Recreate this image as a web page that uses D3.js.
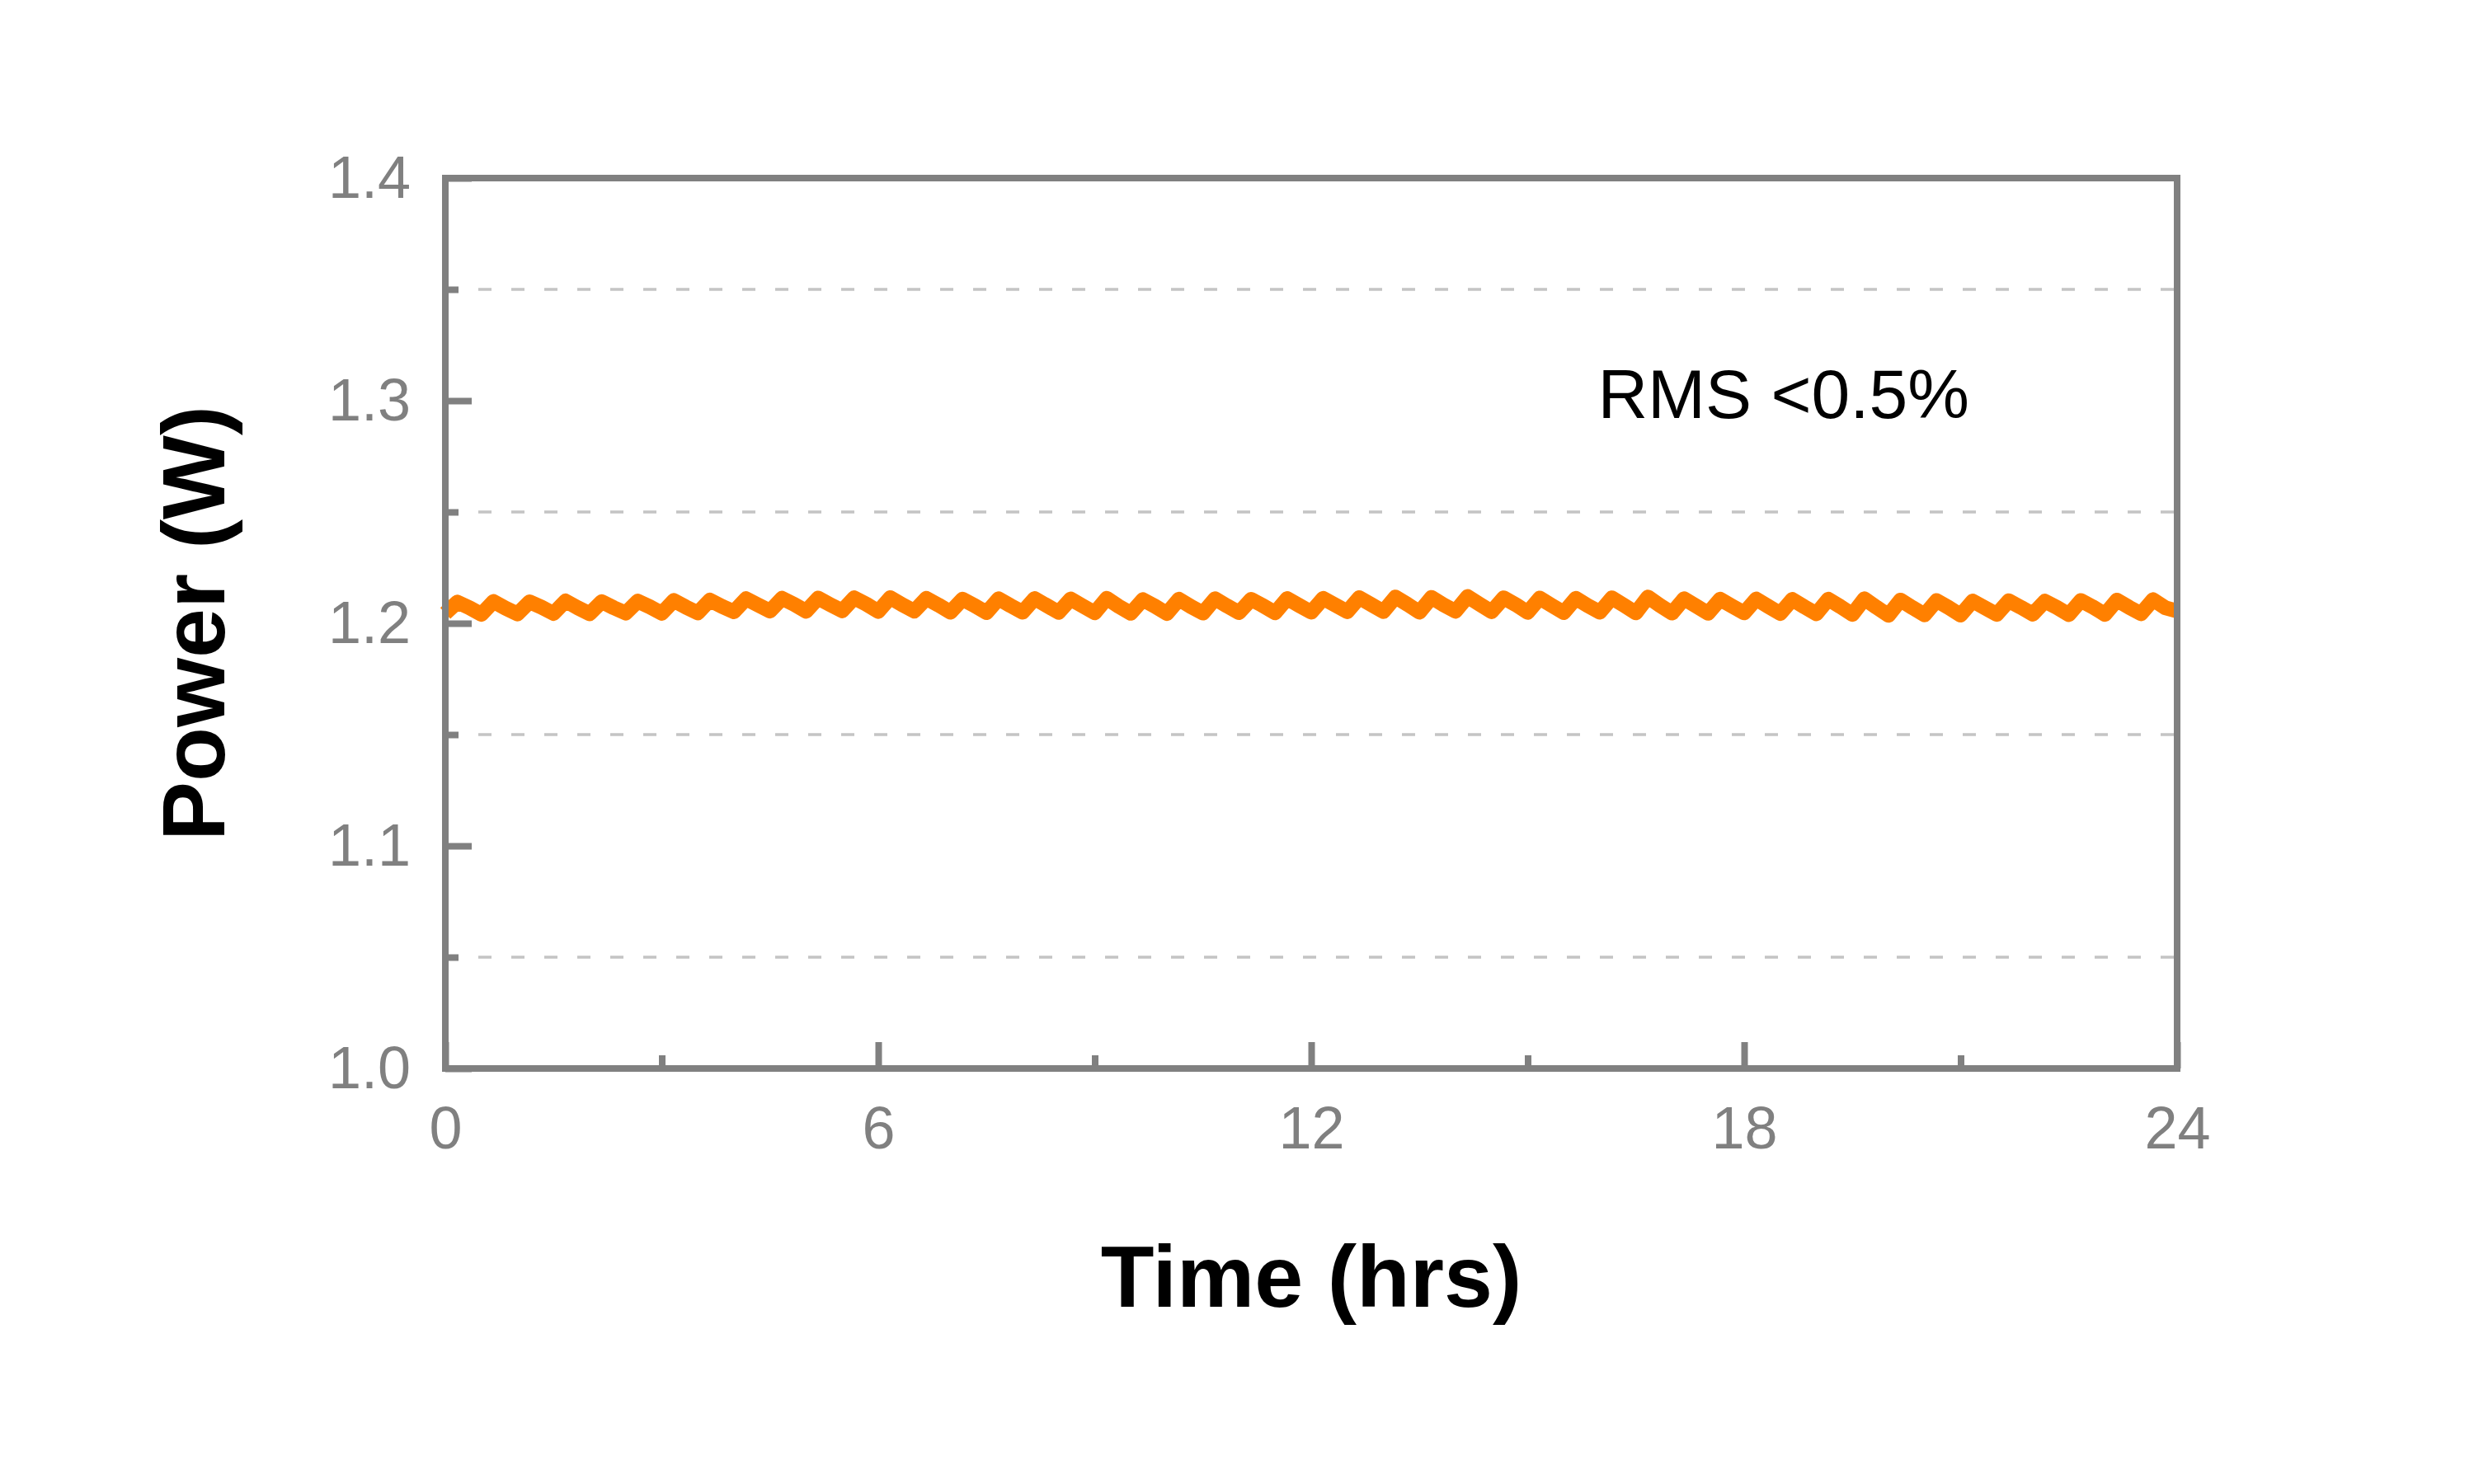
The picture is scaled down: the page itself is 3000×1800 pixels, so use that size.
<!DOCTYPE html>
<html>
<head>
<meta charset="utf-8">
<script src="https://cdn.jsdelivr.net/npm/d3@7"></script>
<style>
  html, body { margin: 0; padding: 0; background: #ffffff; }
  svg { display: block; }
</style>
</head>
<body>
<svg id="chart" width="3000" height="1800"></svg>
<script>
// ---------------- Data ----------------
const xTickValues = [0, 6, 12, 18, 24];
const xMinorTickValues = [3, 9, 15, 21];
const yTickValues = [1.0, 1.1, 1.2, 1.3, 1.4];
const yMinorTickValues = [1.05, 1.15, 1.25, 1.35];
const xDomain = [0, 24];
const yDomain = [1.0, 1.4];
const xTitle = "Time (hrs)";
const yTitle = "Power (W)";
const annotation = "RMS <0.5%";
const annotationPos = [15.97, 1.2922]; // (hrs, W) of the text's left baseline

// sampling interval of the logged power (hours) — one reading every 10 minutes
const sampleStepHrs = 1 / 6;
// power readings (W), 6 per hour
const powerW = [
  1.2045, 1.2095, 1.2070, 1.2040, 1.2098, 1.2068, // 0 h
  1.2042, 1.2096, 1.2072, 1.2044, 1.2100, 1.2070, // 1 h
  1.2043, 1.2097, 1.2070, 1.2046, 1.2099, 1.2074, // 2 h
  1.2045, 1.2102, 1.2073, 1.2047, 1.2104, 1.2076, // 3 h
  1.2052, 1.2110, 1.2082, 1.2055, 1.2112, 1.2085, // 4 h
  1.2054, 1.2113, 1.2084, 1.2056, 1.2114, 1.2086, // 5 h
  1.2053, 1.2115, 1.2083, 1.2055, 1.2112, 1.2082, // 6 h
  1.2050, 1.2108, 1.2080, 1.2048, 1.2110, 1.2079, // 7 h
  1.2050, 1.2111, 1.2080, 1.2049, 1.2109, 1.2078, // 8 h
  1.2047, 1.2112, 1.2076, 1.2045, 1.2106, 1.2077, // 9 h
  1.2044, 1.2108, 1.2075, 1.2046, 1.2110, 1.2078, // 10 h
  1.2048, 1.2107, 1.2079, 1.2047, 1.2111, 1.2080, // 11 h
  1.2050, 1.2112, 1.2082, 1.2052, 1.2115, 1.2084, // 12 h
  1.2053, 1.2118, 1.2085, 1.2050, 1.2116, 1.2083, // 13 h
  1.2054, 1.2120, 1.2086, 1.2052, 1.2114, 1.2084, // 14 h
  1.2049, 1.2113, 1.2080, 1.2048, 1.2112, 1.2079, // 15 h
  1.2050, 1.2114, 1.2081, 1.2047, 1.2118, 1.2080, // 16 h
  1.2046, 1.2110, 1.2078, 1.2045, 1.2108, 1.2077, // 17 h
  1.2047, 1.2109, 1.2076, 1.2044, 1.2107, 1.2074, // 18 h
  1.2043, 1.2108, 1.2075, 1.2040, 1.2110, 1.2072, // 19 h
  1.2036, 1.2104, 1.2070, 1.2038, 1.2102, 1.2071, // 20 h
  1.2037, 1.2100, 1.2070, 1.2040, 1.2101, 1.2072, // 21 h
  1.2041, 1.2099, 1.2071, 1.2039, 1.2102, 1.2073, // 22 h
  1.2040, 1.2104, 1.2072, 1.2043, 1.2106, 1.2070, // 23 h
  1.2055                                          // 24 h
];

// ---------------- Layout ----------------
const margin = { left: 540, right: 360, top: 216, bottom: 504 };
const W = 3000, H = 1800;
const plotW = W - margin.left - margin.right;  // 2100
const plotH = H - margin.top - margin.bottom;  // 1080

const axisColor = "#808080";
const lineColor = "#ff8000";
const fontFamily = "'Liberation Sans', Arial, Helvetica, sans-serif";

const svg = d3.select("#chart");
svg.append("rect").attr("width", W).attr("height", H).attr("fill", "#ffffff");

const g = svg.append("g").attr("transform", `translate(${margin.left},${margin.top})`);

const x = d3.scaleLinear().domain(xDomain).range([0, plotW]);
const y = d3.scaleLinear().domain(yDomain).range([plotH, 0]);

// dashed gridlines at minor y positions
g.append("g").selectAll("line")
  .data(yMinorTickValues)
  .join("line")
  .attr("x1", 0).attr("x2", plotW)
  .attr("y1", d => y(d)).attr("y2", d => y(d))
  .attr("stroke", "#c4c4c4")
  .attr("stroke-width", 3.5)
  .attr("stroke-dasharray", "16,24");

// data line
const data = powerW.map((v, i) => ({ t: i * sampleStepHrs, p: v }));
const line = d3.line().x(d => x(d.t)).y(d => y(d.p)).curve(d3.curveLinear);
g.append("path")
  .datum(data)
  .attr("fill", "none")
  .attr("stroke", lineColor)
  .attr("stroke-width", 18)
  .attr("stroke-linejoin", "round")
  .attr("stroke-linecap", "butt")
  .attr("d", line);

// axes (ticks pointing inward)
const yAxis = d3.axisLeft(y).tickValues(yTickValues).tickSize(-32).tickPadding(42)
  .tickFormat(d3.format(".1f"));
const yAxisMinor = d3.axisLeft(y).tickValues(yMinorTickValues).tickSize(-16).tickFormat("");
const xAxis = d3.axisBottom(x).tickValues(xTickValues).tickSize(-32).tickPadding(46)
  .tickFormat(d3.format("d"));
const xAxisMinor = d3.axisBottom(x).tickValues(xMinorTickValues).tickSize(-16).tickFormat("");

function styleAxis(sel) {
  sel.select(".domain").remove();
  sel.selectAll(".tick line").attr("stroke", axisColor).attr("stroke-width", 8);
  sel.selectAll(".tick text")
    .attr("fill", axisColor)
    .style("font-family", fontFamily)
    .style("font-size", "72px");
}

g.append("g").call(yAxisMinor).call(styleAxis);
g.append("g").call(yAxis).call(styleAxis);
g.append("g").attr("transform", `translate(0,${plotH})`).call(xAxisMinor).call(styleAxis);
g.append("g").attr("transform", `translate(0,${plotH})`).call(xAxis).call(styleAxis);

// frame
g.append("rect")
  .attr("x", 0).attr("y", 0)
  .attr("width", plotW).attr("height", plotH)
  .attr("fill", "none")
  .attr("stroke", axisColor)
  .attr("stroke-width", 8);

// annotation
g.append("text")
  .attr("x", x(annotationPos[0]))
  .attr("y", y(annotationPos[1]))
  .attr("fill", "#000000")
  .style("font-family", fontFamily)
  .style("font-size", "84px")
  .text(annotation);

// axis titles
svg.append("text")
  .attr("x", margin.left + plotW / 2)
  .attr("y", 1585)
  .attr("text-anchor", "middle")
  .attr("fill", "#000000")
  .style("font-family", fontFamily)
  .style("font-weight", "bold")
  .style("font-size", "106px")
  .text(xTitle);

svg.append("text")
  .attr("transform", `translate(272,${margin.top + plotH / 2}) rotate(-90)`)
  .attr("text-anchor", "middle")
  .attr("fill", "#000000")
  .style("font-family", fontFamily)
  .style("font-weight", "bold")
  .style("font-size", "108px")
  .text(yTitle);
</script>
</body>
</html>
